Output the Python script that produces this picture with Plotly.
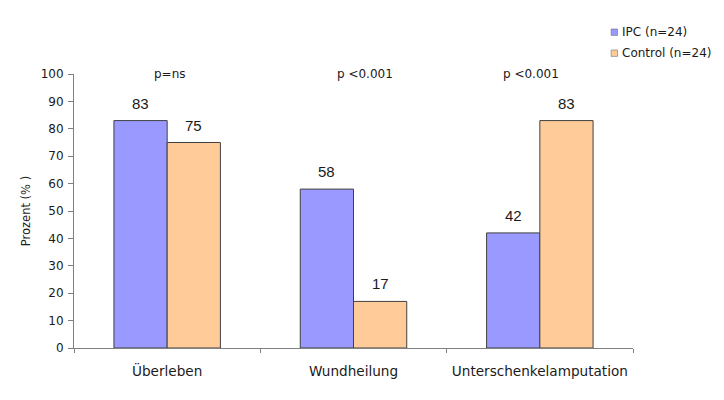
import plotly.graph_objects as go

categories = ["Überleben", "Wundheilung", "Unterschenkelamputation"]
series_names = ["IPC (n=24)", "Control (n=24)"]
ipc_values = [83, 58, 42]
control_values = [75, 17, 83]
p_labels = ["p=ns", "p <0.001", "p <0.001"]
y_ticks = list(range(0, 101, 10))

colors = ["#9999FF", "#FFCC99"]

W, H = 724, 400
ml, mr, mt, mb = 65.5, 98.8, 65.8, 60.2
plot_w = W - ml - mr
plot_h = H - mt - mb


def px_to_paper(fx, fy):
    return (fx - ml) / plot_w, (H - mb - fy) / plot_h


fig = go.Figure()
for name, vals, col in zip(series_names, [ipc_values, control_values], colors):
    fig.add_trace(go.Bar(
        x=categories, y=vals, name=name,
        marker=dict(color=col, line=dict(color="#404040", width=1)),
        hoverinfo="skip", showlegend=False,
    ))

# value labels above bars
cat_w = plot_w / len(categories)
bar_w = cat_w * (1 - 0.4286) / 2
for vals, sign in [(ipc_values, -1), (control_values, 1)]:
    for c, v in zip(categories, vals):
        fig.add_annotation(x=c, y=v, text=str(v), showarrow=False,
                           xshift=sign * bar_w / 2, yshift=17.5, yanchor="middle",
                           font=dict(family="Liberation Sans, Arial", size=15, color="#1a1a1a"))

# p-value labels
p_x = [0.172, 0.520, 0.818]
for px, t in zip(p_x, p_labels):
    fig.add_annotation(x=px, xref="paper", xanchor="center", y=100, yref="y", text=t,
                       showarrow=False, yanchor="middle",
                       font=dict(family="DejaVu Sans", size=12, color="#1a1a1a"))

# legend (small square swatches like the original)
leg_rows_y = [24.0, 45.0]
sw_cx, sw_half = 606.5, 3.2
text_x = 612.5
for name, col, ry in zip(series_names, colors, leg_rows_y):
    x0, y0 = px_to_paper(sw_cx - sw_half, ry + sw_half)
    x1, y1 = px_to_paper(sw_cx + sw_half, ry - sw_half)
    fig.add_shape(type="rect", xref="paper", yref="paper", x0=x0, y0=y0, x1=x1, y1=y1,
                  fillcolor=col, line=dict(color="#707070", width=0.6))
    tx, ty = px_to_paper(text_x, ry)
    fig.add_annotation(x=tx, y=ty, xref="paper", yref="paper", xanchor="left", yanchor="middle",
                       text=name, showarrow=False,
                       font=dict(family="DejaVu Sans", size=12, color="#1a1a1a"))

fig.update_layout(
    width=W, height=H,
    margin=dict(l=ml, r=mr, t=mt, b=mb),
    paper_bgcolor="white", plot_bgcolor="white",
    barmode="group", bargap=0.4286, bargroupgap=0,
    font=dict(family="DejaVu Sans", size=12, color="#1a1a1a"),
    showlegend=False,
    xaxis=dict(showline=True, linecolor="#808080", linewidth=1,
               ticks="outside", tickson="boundaries", ticklen=4, tickcolor="#808080",
               tickfont=dict(family="DejaVu Sans", size=13.6, color="#1a1a1a"),
               ticklabelstandoff=11, showgrid=False),
    yaxis=dict(range=[0, 100], tickvals=y_ticks, showline=True, linecolor="#808080",
               linewidth=1, ticks="outside", ticklen=5, tickcolor="#808080",
               tickfont=dict(family="DejaVu Sans", size=12, color="#1a1a1a"),
               ticklabelstandoff=2,
               showgrid=False, zeroline=False,
               title=dict(text="Prozent (% )", font=dict(family="DejaVu Sans", size=11.5, color="#1a1a1a"),
                          standoff=7)),
)

fig.write_html("out.html")
